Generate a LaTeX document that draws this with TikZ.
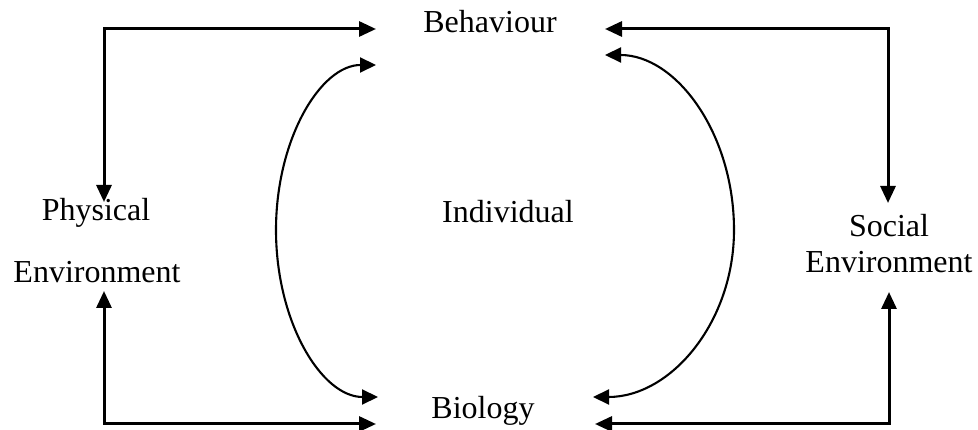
\documentclass[tikz,border=0pt]{standalone}
\usepackage{fontspec}
\setmainfont{Liberation Serif}
\usetikzlibrary{arrows.meta}
\begin{document}
\begin{tikzpicture}[x=1pt,y=1pt,
  lbl/.style={inner sep=0pt,anchor=base,font=\fontsize{32}{38}\selectfont},
  thickarrow/.style={line width=3pt,{Triangle[length=17pt,width=15pt]}-{Triangle[length=17pt,width=15pt]}},
  curvearrow/.style={line width=2.1pt,{Triangle[length=16pt,width=15pt]}-{Triangle[length=16pt,width=15pt]}}]
\useasboundingbox (0,0) rectangle (978,-430);
% labels
\node[lbl] (beh) at (490,-33) {Behaviour};
\node[lbl] (bio) at (483,-418) {Biology};
\node[lbl] (ind) at (508,-223) {Individual};
\node[lbl] (phys) at (96,-221) {Physical};
\node[lbl] (physenv) at (97,-283) {Environment};
\node[lbl] (soc) at (889,-237) {Social};
\node[lbl] (socenv) at (889,-273) {Environment};
% connector end points
\coordinate (tlA) at (104,-202);
\coordinate (tlC) at (104,-29);
\coordinate (tlB) at (376,-29);
\coordinate (blA) at (104,-291);
\coordinate (blC) at (104,-424);
\coordinate (blB) at (376,-424);
\coordinate (trA) at (605,-29);
\coordinate (trC) at (888,-29);
\coordinate (trB) at (888,-203);
\coordinate (brA) at (595,-424);
\coordinate (brC) at (889,-424);
\coordinate (brB) at (889,-292);
\coordinate (lcTop) at (376,-65);
\coordinate (rcTop) at (605,-55);
% straight connectors
\draw[thickarrow] (tlA) -- (tlC) -- (tlB);
\draw[thickarrow] (blA) -- (blC) -- (blB);
\draw[thickarrow] (trA) -- (trC) -- (trB);
\draw[thickarrow] (brA) -- (brC) -- (brB);
% curved connectors
\draw[curvearrow] (lcTop) arc[start angle=90,end angle=180,x radius=100,y radius=165]
  arc[start angle=180,end angle=270,x radius=102,y radius=167];
\draw[curvearrow] (rcTop) arc[start angle=90,end angle=0,x radius=129,y radius=175]
  arc[start angle=0,end angle=-90,x radius=141,y radius=167];
\end{tikzpicture}
\end{document}
